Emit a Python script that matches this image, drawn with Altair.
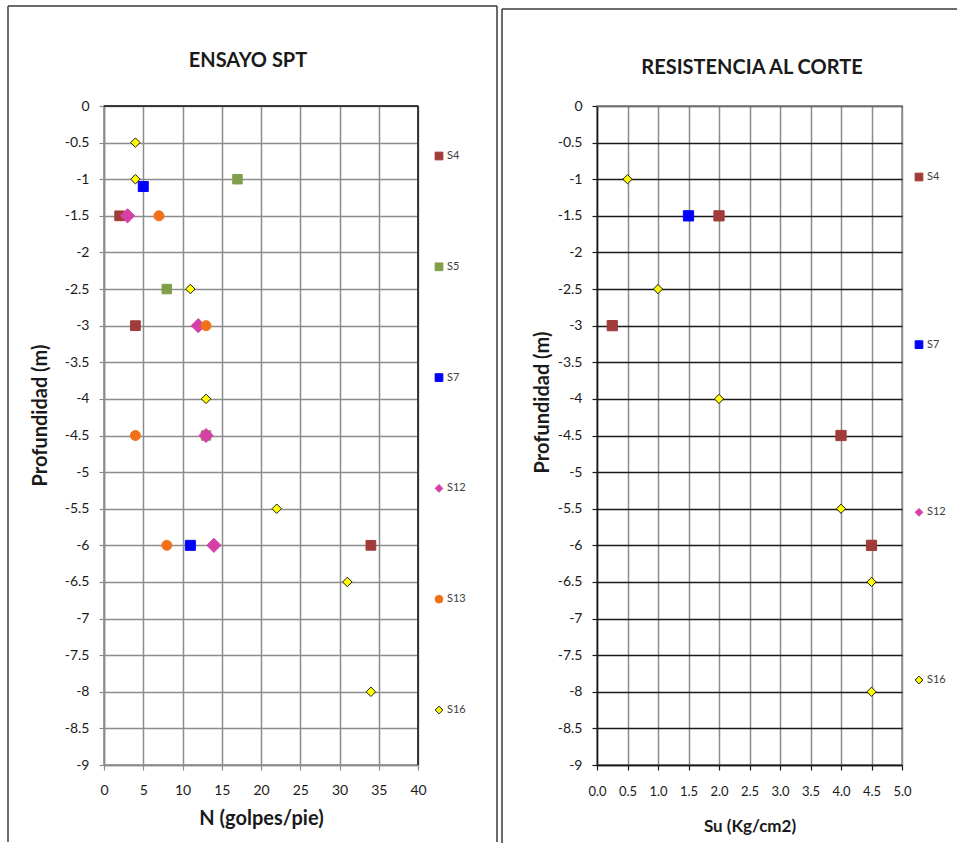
import altair as alt
import pandas as pd

FONT = "Lato"
TEXT = "#1a1a1a"
GRID_GRAY = "#8c8c8c"
FRAME = "#3a3a3a"

# ---- SPT test: blow count N vs depth, per borehole ----
spt_s4_n = [2, 4, 34]
spt_s4_z = [-1.5, -3.0, -6.0]
spt_s5_n = [17, 8, 13]
spt_s5_z = [-1.0, -2.5, -4.5]
spt_s7_n = [5, 11]
spt_s7_z = [-1.1, -6.0]
spt_s12_n = [3, 12, 13, 14]
spt_s12_z = [-1.5, -3.0, -4.5, -6.0]
spt_s13_n = [7, 13, 4, 8]
spt_s13_z = [-1.5, -3.0, -4.5, -6.0]
spt_s16_n = [4, 4, 11, 13, 22, 31, 34]
spt_s16_z = [-0.5, -1.0, -2.5, -4.0, -5.5, -6.5, -8.0]

# ---- Undrained shear strength Su vs depth ----
su_s4 = [2.0, 0.25, 4.0, 4.5]
su_s4_z = [-1.5, -3.0, -4.5, -6.0]
su_s7 = [1.5]
su_s7_z = [-1.5]
su_s16 = [0.5, 1.0, 2.0, 4.0, 4.5, 4.5]
su_s16_z = [-1.0, -2.5, -4.0, -5.5, -6.5, -8.0]

# ---- series styling ----
spt_names = ["S4", "S5", "S7", "S12", "S13", "S16"]
spt_fill = ["#A03C3A", "#7F9F4A", "#0000FF", "#D63FA6", "#F27118", "#FFFF00"]
spt_stroke = ["#A03C3A", "#7F9F4A", "#0000FF", "#D63FA6", "#F27118", "#1a1a1a"]
spt_shape = ["square", "square", "square", "diamond", "circle", "diamond"]
spt_size = [95, 90, 100, 200, 100, 90]

su_names = ["S4", "S7", "S12", "S16"]
su_fill = ["#A03C3A", "#0000FF", "#D63FA6", "#FFFF00"]
su_stroke = ["#A03C3A", "#0000FF", "#D63FA6", "#1a1a1a"]
su_shape = ["square", "square", "diamond", "diamond"]
su_size = [105, 105, 150, 85]

depth_ticks = [0, -0.5, -1, -1.5, -2, -2.5, -3, -3.5, -4, -4.5, -5, -5.5,
               -6, -6.5, -7, -7.5, -8, -8.5, -9]
n_ticks = [0, 5, 10, 15, 20, 25, 30, 35, 40]
su_ticks = [0, 0.5, 1.0, 1.5, 2.0, 2.5, 3.0, 3.5, 4.0, 4.5, 5.0]


def frame(names, xs, zs):
    rows = []
    for name, x, z in zip(names, xs, zs):
        for a, b in zip(x, z):
            rows.append({"serie": name, "v": a, "z": b})
    return pd.DataFrame(rows)


spt_df = frame(spt_names,
               [spt_s4_n, spt_s5_n, spt_s7_n, spt_s12_n, spt_s13_n, spt_s16_n],
               [spt_s4_z, spt_s5_z, spt_s7_z, spt_s12_z, spt_s13_z, spt_s16_z])
su_df = frame(["S4", "S7", "S16"], [su_s4, su_s7, su_s16],
              [su_s4_z, su_s7_z, su_s16_z])

one = pd.DataFrame({"k": [0]})

PW_L, PH = 314, 659
PW_R = 305


def border(x, x2, y, y2, color, width=1.5):
    return alt.Chart(one).mark_rule(color=color, strokeWidth=width).encode(
        x=alt.value(x), x2=alt.value(x2), y=alt.value(y), y2=alt.value(y2))


def heading(text, x, y):
    return alt.Chart(one).mark_text(
        text=text, font=FONT, fontSize=20, fontWeight="bold", color=TEXT,
        align="center", baseline="middle",
    ).encode(x=alt.value(x), y=alt.value(y))


def depth_axis(grid_color, domain_color, title_x, title_y):
    return alt.Axis(values=depth_ticks, labelExpr="'' + datum.value",
                    grid=True, gridColor=grid_color, gridWidth=1.5,
                    domainColor=domain_color, domainWidth=1.5,
                    tickColor=domain_color, tickSize=5, tickWidth=1.2,
                    labelFont=FONT, labelFontSize=14, labelColor=TEXT,
                    labelPadding=10, labelFlush=False,
                    title="Profundidad  (m)", titleFont=FONT,
                    titleFontSize=20, titleFontWeight="bold", titleColor=TEXT,
                    titleX=title_x, titleY=title_y)


def series_scales(names, fill, stroke, shape):
    return dict(
        fill=alt.Fill("serie:N", scale=alt.Scale(domain=names, range=fill),
                      legend=None),
        stroke=alt.Stroke("serie:N", scale=alt.Scale(domain=names, range=stroke),
                          legend=None),
        shape=alt.Shape("serie:N", scale=alt.Scale(domain=names, range=shape),
                        legend=None),
    )


def points(df, xenc, yenc, names, fill, stroke, shape, size):
    return alt.Chart(df).mark_point(filled=True, opacity=1, strokeWidth=1).encode(
        x=xenc, y=yenc,
        size=alt.Size("serie:N",
                      scale=alt.Scale(type="ordinal", domain=names, range=size),
                      legend=None),
        **series_scales(names, fill, stroke, shape),
    )


def key(names, fill, stroke, shape, x, y0, y1):
    """Series key drawn beside the plot: one symbol and label per borehole."""
    key_df = pd.DataFrame({"serie": names})
    ky = alt.Y("serie:N", axis=None, sort=names,
               scale=alt.Scale(type="point", domain=names, range=[y0, y1],
                               padding=0))
    sym = alt.Chart(key_df).mark_point(
        filled=True, opacity=1, strokeWidth=1, size=60,
    ).encode(x=alt.value(x), y=ky, **series_scales(names, fill, stroke, shape))
    lab = alt.Chart(key_df).mark_text(
        font=FONT, fontSize=11, color="#404040", align="left",
        baseline="middle",
    ).encode(x=alt.value(x + 8), y=ky, text="serie:N")
    return sym, lab


# Left panel: SPT
spt_x = alt.X("v:Q", scale=alt.Scale(domain=[0, 40], nice=False),
              axis=alt.Axis(values=n_ticks, grid=True, gridColor=GRID_GRAY,
                            gridWidth=1.5, domainColor=GRID_GRAY, domainWidth=1.5,
                            tickColor=GRID_GRAY, tickSize=5, tickWidth=1.2,
                            labelFont=FONT, labelFontSize=14, labelColor=TEXT,
                            labelPadding=13, labelFlush=False,
                            title="N (golpes/pie)",
                            titleFont=FONT, titleFontSize=20,
                            titleFontWeight="bold", titleColor=TEXT,
                            titlePadding=11))
spt_y = alt.Y("z:Q", scale=alt.Scale(domain=[-9, 0], nice=False),
              axis=depth_axis(GRID_GRAY, GRID_GRAY, -54, 309))

spt_sym, spt_lab = key(spt_names, spt_fill, spt_stroke, spt_shape, 335, 50, 604)

left = alt.layer(
    points(spt_df, spt_x, spt_y, spt_names, spt_fill, spt_stroke, spt_shape,
           spt_size),
    spt_sym, spt_lab,
    border(0, PW_L, 0, 0, "#1a1a1a"),
    border(PW_L, PW_L, 0, PH, "#1a1a1a"),
    border(-96, -96, -100, 736, FRAME),
    border(393, 393, -100, 736, FRAME),
    border(-96, 393, -100, -100, FRAME),
    heading("ENSAYO SPT", 144, -45),
).resolve_scale(y="independent").properties(width=PW_L, height=PH)

# Right panel: shear strength
su_x = alt.X("v:Q", scale=alt.Scale(domain=[0, 5], nice=False),
             axis=alt.Axis(values=su_ticks, format=".1f", grid=True,
                           gridColor=GRID_GRAY, gridWidth=1.5,
                           domainColor="#1a1a1a", domainWidth=1.5,
                           tickColor="#1a1a1a", tickSize=5, tickWidth=1.2,
                           labelFont=FONT, labelFontSize=13, labelColor=TEXT,
                           labelPadding=15, labelFlush=False,
                           title="Su (Kg/cm2)",
                           titleFont=FONT, titleFontSize=17,
                           titleFontWeight="bold", titleColor=TEXT,
                           titlePadding=20))
su_y = alt.Y("z:Q", scale=alt.Scale(domain=[-9, 0], nice=False),
             axis=depth_axis("#1a1a1a", "#1a1a1a", -45, 296))

su_sym, su_lab = key(su_names, su_fill, su_stroke, su_shape, 322, 71, 574)

right = alt.layer(
    points(su_df, su_x, su_y, su_names, su_fill, su_stroke, su_shape, su_size),
    su_sym, su_lab,
    border(-95, -95, -97, 737, FRAME),
    border(-95, 360, -97, -97, FRAME),
    border(0, PW_R, 0, 0, GRID_GRAY),
    heading("RESISTENCIA AL CORTE", 155, -38),
).resolve_scale(y="independent").properties(width=PW_R, height=PH)

chart = alt.hconcat(left, right, spacing=1).resolve_scale(
    fill="independent", stroke="independent", shape="independent",
    size="independent", x="independent", y="independent",
).properties(
    padding={"left": 6, "top": 4, "right": 0, "bottom": 0},
    background="white",
).configure_view(
    stroke=GRID_GRAY, strokeWidth=1.5,
)

chart.save("out.html", embed_options={"renderer": "svg", "actions": False})
